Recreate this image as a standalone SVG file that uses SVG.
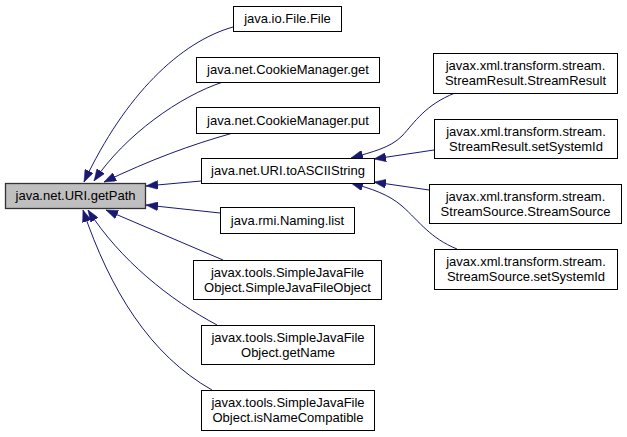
<svg xmlns="http://www.w3.org/2000/svg" width="627" height="437" viewBox="0 0 627 437">
<style>
.n rect{fill:#ffffff;stroke:#000000;stroke-width:1}
.n.main rect{fill:#bfbfbf;stroke:#333333;stroke-width:1.3}
.n text{font-family:"Liberation Sans",Arial,sans-serif;font-size:13px;fill:#000000;text-anchor:middle}
.e path{fill:none;stroke:#191970;stroke-width:1}
</style>
<defs>
<marker id="ah" viewBox="0 0 12 9" refX="12" refY="4.5" markerWidth="12" markerHeight="9" markerUnits="userSpaceOnUse" orient="auto">
<path d="M0,0 L12,4.5 L0,9 z" fill="#191970" stroke="#191970" stroke-width="0.5"/>
</marker>
</defs>
<rect width="627" height="437" fill="#ffffff"/>
<g id="edges" class="e">
<path marker-end="url(#ah)" d="M233,27 C180,42 125,95 84,182"/>
<path marker-end="url(#ah)" d="M223,82 C180,96 125,135 94,181"/>
<path marker-end="url(#ah)" d="M233,133 C190,145 150,160 104,182"/>
<path marker-end="url(#ah)" d="M201,181 L146,186"/>
<path marker-end="url(#ah)" d="M220,213 L146,205"/>
<path marker-end="url(#ah)" d="M223,260 L106,210"/>
<path marker-end="url(#ah)" d="M217,325 C170,300 120,260 88,210"/>
<path marker-end="url(#ah)" d="M212,390 C150,355 110,290 83,210"/>
<path marker-end="url(#ah)" d="M455,93 C425,105 415,122 402,136 C390,148 372,152 351,158"/>
<path marker-end="url(#ah)" d="M434,150 L374,159"/>
<path marker-end="url(#ah)" d="M429,190 L374,182"/>
<path marker-end="url(#ah)" d="M457,249 C430,238 420,222 402,206 C388,194 372,189 351,183"/>
</g>
<g id="node-getPath" class="n main"><rect x="5.5" y="183.5" width="140" height="25"/><text x="75.5" y="200">java.net.URI.getPath</text></g>
<g id="node-File" class="n"><rect x="233.5" y="6.5" width="108" height="25"/><text x="287.5" y="23">java.io.File.File</text></g>
<g id="node-CookieGet" class="n"><rect x="196.5" y="57.5" width="183" height="25"/><text x="288" y="74">java.net.CookieManager.get</text></g>
<g id="node-CookiePut" class="n"><rect x="196.5" y="107.5" width="183" height="26"/><text x="288" y="124.5">java.net.CookieManager.put</text></g>
<g id="node-toASCII" class="n"><rect x="201.5" y="158.5" width="173" height="25"/><text x="288" y="175">java.net.URI.toASCIIString</text></g>
<g id="node-NamingList" class="n"><rect x="220.5" y="207.5" width="134" height="26"/><text x="287.5" y="224.5">java.rmi.Naming.list</text></g>
<g id="node-SJFOctor" class="n"><rect x="193.5" y="260.5" width="188" height="39"/><text x="287.5" y="277">javax.tools.SimpleJavaFile</text><text x="287.5" y="292">Object.SimpleJavaFileObject</text></g>
<g id="node-SJFOgetName" class="n"><rect x="201.5" y="325.5" width="173" height="39"/><text x="288" y="342">javax.tools.SimpleJavaFile</text><text x="288" y="357">Object.getName</text></g>
<g id="node-SJFOisName" class="n"><rect x="201.5" y="390.5" width="173" height="40"/><text x="288" y="407">javax.tools.SimpleJavaFile</text><text x="288" y="422">Object.isNameCompatible</text></g>
<g id="node-SRctor" class="n"><rect x="433.5" y="53.5" width="184" height="40"/><text x="525.5" y="70">javax.xml.transform.stream.</text><text x="525.5" y="85">StreamResult.StreamResult</text></g>
<g id="node-SRsetSystemId" class="n"><rect x="434.5" y="119.5" width="183" height="39"/><text x="526" y="136">javax.xml.transform.stream.</text><text x="526" y="151">StreamResult.setSystemId</text></g>
<g id="node-SSctor" class="n"><rect x="429.5" y="184.5" width="192" height="39"/><text x="525.5" y="201">javax.xml.transform.stream.</text><text x="525.5" y="216">StreamSource.StreamSource</text></g>
<g id="node-SSsetSystemId" class="n"><rect x="434.5" y="249.5" width="183" height="40"/><text x="526" y="266">javax.xml.transform.stream.</text><text x="526" y="281">StreamSource.setSystemId</text></g>
</svg>
